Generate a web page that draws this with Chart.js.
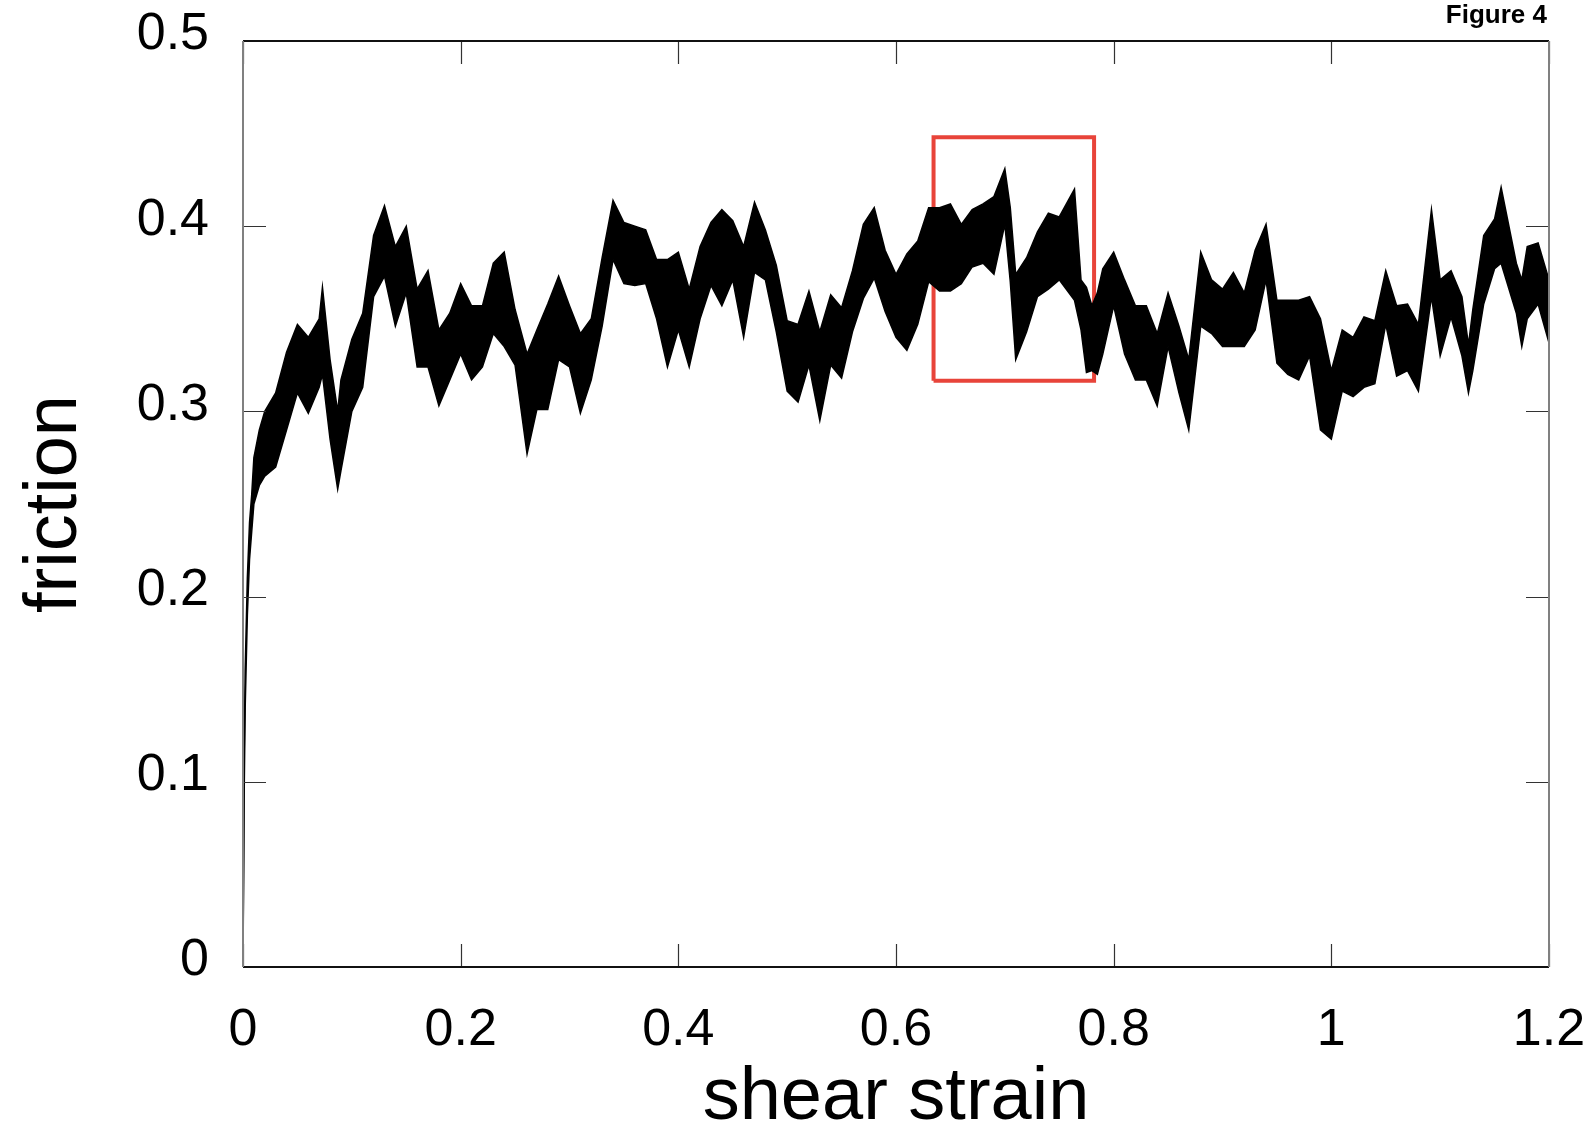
<!DOCTYPE html>
<html>
<head>
<meta charset="utf-8">
<title>Figure 4</title>
<script src="https://cdn.jsdelivr.net/npm/chart.js@4"></script>
<style>
	html, body { margin: 0; padding: 0; background: #fff; }
	#frictionChart { display: block; }
</style>
</head>
<body>
<canvas id="frictionChart" width="1590" height="1127"></canvas>
<script>
/* global Chart */

// shear strain samples, with the upper and lower edge of the noisy friction trace at each
const strain = [
	0, 0.001, 0.002, 0.004, 0.006, 0.008, 0.01, 0.015, 0.02, 0.03,
	0.04, 0.05, 0.06, 0.07, 0.073, 0.08, 0.087, 0.09, 0.1, 0.11,
	0.12, 0.13, 0.14, 0.15, 0.16, 0.17, 0.18, 0.19, 0.2, 0.21,
	0.22, 0.23, 0.24, 0.25, 0.261, 0.27, 0.28, 0.29, 0.3, 0.31,
	0.32, 0.33, 0.34, 0.35, 0.36, 0.37, 0.38, 0.39, 0.4, 0.41,
	0.42, 0.43, 0.44, 0.45, 0.46, 0.47, 0.48, 0.49, 0.5, 0.51,
	0.52, 0.53, 0.54, 0.55, 0.56, 0.57, 0.58, 0.59, 0.6, 0.61,
	0.62, 0.63, 0.64, 0.65, 0.66, 0.67, 0.68, 0.69, 0.7, 0.705,
	0.71, 0.72, 0.73, 0.74, 0.75, 0.764, 0.77, 0.775, 0.78, 0.785,
	0.79, 0.8, 0.81, 0.82, 0.83, 0.84, 0.85, 0.86, 0.869, 0.88,
	0.89, 0.9, 0.91, 0.92, 0.93, 0.94, 0.95, 0.96, 0.97, 0.98,
	0.99, 1, 1.01, 1.02, 1.03, 1.04, 1.05, 1.06, 1.07, 1.08,
	1.092, 1.1, 1.11, 1.12, 1.126, 1.13, 1.14, 1.15, 1.156, 1.17,
	1.175, 1.18, 1.19, 1.2,
];
const frictionHigh = [
	0, 0.11, 0.16, 0.21, 0.24, 0.255, 0.275, 0.29, 0.3, 0.31,
	0.332, 0.347, 0.34, 0.35, 0.367, 0.328, 0.3, 0.317, 0.339, 0.353,
	0.395, 0.411, 0.389, 0.4, 0.366, 0.376, 0.344, 0.353, 0.369, 0.357,
	0.357, 0.38, 0.386, 0.355, 0.331, 0.344, 0.358, 0.373, 0.357, 0.342,
	0.35, 0.383, 0.414, 0.402, 0.4, 0.398, 0.382, 0.382, 0.386, 0.366,
	0.389, 0.402, 0.409, 0.403, 0.389, 0.413, 0.398, 0.379, 0.349, 0.347,
	0.365, 0.343, 0.363, 0.356, 0.376, 0.401, 0.41, 0.387, 0.374, 0.385,
	0.392, 0.41, 0.41, 0.412, 0.401, 0.409, 0.412, 0.416, 0.431, 0.41,
	0.374, 0.383, 0.397, 0.407, 0.405, 0.42, 0.371, 0.367, 0.357, 0.364,
	0.377, 0.386, 0.371, 0.357, 0.357, 0.342, 0.364, 0.346, 0.328, 0.386,
	0.371, 0.366, 0.375, 0.364, 0.387, 0.401, 0.36, 0.36, 0.36, 0.362,
	0.35, 0.322, 0.344, 0.34, 0.351, 0.349, 0.376, 0.357, 0.358, 0.347,
	0.409, 0.371, 0.376, 0.362, 0.336, 0.355, 0.395, 0.404, 0.421, 0.38,
	0.371, 0.389, 0.391, 0.371,
];
const frictionLow = [
	0, 0.09, 0.14, 0.19, 0.22, 0.235, 0.25, 0.26, 0.265, 0.27,
	0.29, 0.31, 0.299, 0.313, 0.32, 0.285, 0.258, 0.268, 0.3, 0.313,
	0.362, 0.373, 0.346, 0.364, 0.324, 0.324, 0.303, 0.317, 0.331, 0.317,
	0.324, 0.342, 0.335, 0.325, 0.277, 0.301, 0.301, 0.328, 0.324, 0.299,
	0.317, 0.346, 0.382, 0.369, 0.368, 0.369, 0.35, 0.324, 0.344, 0.324,
	0.35, 0.368, 0.357, 0.371, 0.34, 0.375, 0.371, 0.343, 0.311, 0.305,
	0.325, 0.295, 0.325, 0.318, 0.343, 0.361, 0.372, 0.354, 0.34, 0.333,
	0.347, 0.37, 0.365, 0.365, 0.369, 0.378, 0.38, 0.374, 0.401, 0.37,
	0.328, 0.343, 0.362, 0.366, 0.371, 0.36, 0.344, 0.321, 0.322, 0.32,
	0.331, 0.357, 0.331, 0.317, 0.317, 0.303, 0.335, 0.31, 0.29, 0.346,
	0.342, 0.335, 0.335, 0.335, 0.344, 0.371, 0.326, 0.32, 0.317, 0.33,
	0.29, 0.285, 0.311, 0.308, 0.313, 0.315, 0.347, 0.319, 0.322, 0.311,
	0.362, 0.33, 0.351, 0.33, 0.31, 0.322, 0.358, 0.377, 0.38, 0.353,
	0.335, 0.35, 0.358, 0.337,
];

// highlighted window (red box)
const boxStrain = [ 0.6345, 0.782 ];
const boxFriction = [ 0.3165, 0.448 ];

const xTicks = [ 0, 0.2, 0.4, 0.6, 0.8, 1, 1.2 ];
const yTicks = [ 0, 0.1, 0.2, 0.3, 0.4, 0.5 ];

const FONT = '"Liberation Sans", Arial, Helvetica, sans-serif';

const highPoints = strain.map( ( s, i ) => ( { x: s, y: frictionHigh[ i ] } ) );
const lowPoints = strain.map( ( s, i ) => ( { x: s, y: frictionLow[ i ] } ) );
const boxPoints = [
	{ x: boxStrain[ 0 ], y: boxFriction[ 0 ] },
	{ x: boxStrain[ 0 ], y: boxFriction[ 1 ] },
	{ x: boxStrain[ 1 ], y: boxFriction[ 1 ] },
	{ x: boxStrain[ 1 ], y: boxFriction[ 0 ] },
	{ x: boxStrain[ 0 ], y: boxFriction[ 0 ] },
];

// inward tick marks on all four sides plus the frame
const frameTicks = {
	id: 'frameTicks',
	afterDatasetsDraw( chart ) {
		const { ctx, chartArea: a, scales } = chart;
		const len = 23;
		ctx.save();
		ctx.strokeStyle = '#333';
		ctx.lineWidth = 1.2;
		ctx.beginPath();
		xTicks.forEach( ( v ) => {
			const px = Math.round( scales.x.getPixelForValue( v ) ) + 0.5;
			ctx.moveTo( px, a.bottom );
			ctx.lineTo( px, a.bottom - len );
			ctx.moveTo( px, a.top );
			ctx.lineTo( px, a.top + len );
		} );
		yTicks.forEach( ( v ) => {
			const py = Math.round( scales.y.getPixelForValue( v ) ) + 0.5;
			ctx.moveTo( a.left, py );
			ctx.lineTo( a.left + len, py );
			ctx.moveTo( a.right, py );
			ctx.lineTo( a.right - len, py );
		} );
		ctx.stroke();

		ctx.lineWidth = 2;
		ctx.strokeStyle = '#111';
		ctx.beginPath();
		ctx.moveTo( a.left, a.top );
		ctx.lineTo( a.right, a.top );
		ctx.moveTo( a.left, a.bottom );
		ctx.lineTo( a.right, a.bottom );
		ctx.stroke();
		ctx.strokeStyle = '#808080';
		ctx.beginPath();
		ctx.moveTo( a.left, a.top );
		ctx.lineTo( a.left, a.bottom );
		ctx.moveTo( a.right, a.top );
		ctx.lineTo( a.right, a.bottom );
		ctx.stroke();

		ctx.fillStyle = '#000';
		ctx.font = 'bold 26px ' + FONT;
		ctx.textAlign = 'right';
		ctx.textBaseline = 'alphabetic';
		ctx.fillText( 'Figure 4', 1547, 23 );
		ctx.restore();
	},
};

const fmt = ( v ) => String( Number( Number( v ).toFixed( 1 ) ) );

// labels may hang over the plot edges, so the scales reserve no extra room for them
const noOverhang = ( scale ) => {
	scale.paddingLeft = 0;
	scale.paddingRight = 0;
	scale.paddingTop = 0;
	scale.paddingBottom = 0;
};

new Chart( document.getElementById( 'frictionChart' ), {
	type: 'line',
	data: {
		datasets: [
			{
				label: 'friction (upper)',
				data: highPoints,
				borderColor: '#000',
				borderWidth: 1.5,
				pointRadius: 0,
				tension: 0,
				fill: false,
			},
			{
				label: 'friction (lower)',
				data: lowPoints,
				borderColor: '#000',
				backgroundColor: '#000',
				borderWidth: 1.5,
				pointRadius: 0,
				tension: 0,
				fill: '-1',
			},
			{
				label: 'window',
				data: boxPoints,
				borderColor: '#e8443a',
				borderWidth: 4,
				pointRadius: 0,
				tension: 0,
				fill: false,
			},
		],
	},
	options: {
		responsive: false,
		animation: false,
		devicePixelRatio: 1,
		layout: {
			padding: { top: 41, right: 41, bottom: 0, left: 0 },
		},
		plugins: {
			legend: { display: false },
			tooltip: { enabled: false },
		},
		scales: {
			x: {
				type: 'linear',
				min: 0,
				max: 1.2,
				grid: { display: false },
				border: { display: false },
				afterBuildTicks( scale ) {
					scale.ticks = xTicks.map( ( v ) => ( { value: v } ) );
				},
				afterFit( scale ) {
					scale.height = 160;
					noOverhang( scale );
				},
				ticks: {
					color: '#000',
					padding: 24,
					maxRotation: 0,
					font: { family: FONT, size: 52 },
					callback: fmt,
				},
				title: {
					display: true,
					text: 'shear strain',
					color: '#000',
					font: { family: FONT, size: 74, lineHeight: 0.76 },
					padding: { top: 0, bottom: 0 },
				},
			},
			y: {
				type: 'linear',
				min: 0,
				max: 0.5,
				grid: { display: false },
				border: { display: false },
				afterBuildTicks( scale ) {
					scale.ticks = yTicks.map( ( v ) => ( { value: v } ) );
				},
				afterFit( scale ) {
					scale.width = 243;
					noOverhang( scale );
				},
				ticks: {
					color: '#000',
					padding: 26,
					labelOffset: -6,
					font: { family: FONT, size: 52 },
					callback: fmt,
				},
				title: {
					display: true,
					text: 'friction',
					color: '#000',
					font: { family: FONT, size: 74, lineHeight: 1 },
					padding: { top: 19, bottom: 0 },
				},
			},
		},
	},
	plugins: [ frameTicks ],
} );
</script>
</body>
</html>
